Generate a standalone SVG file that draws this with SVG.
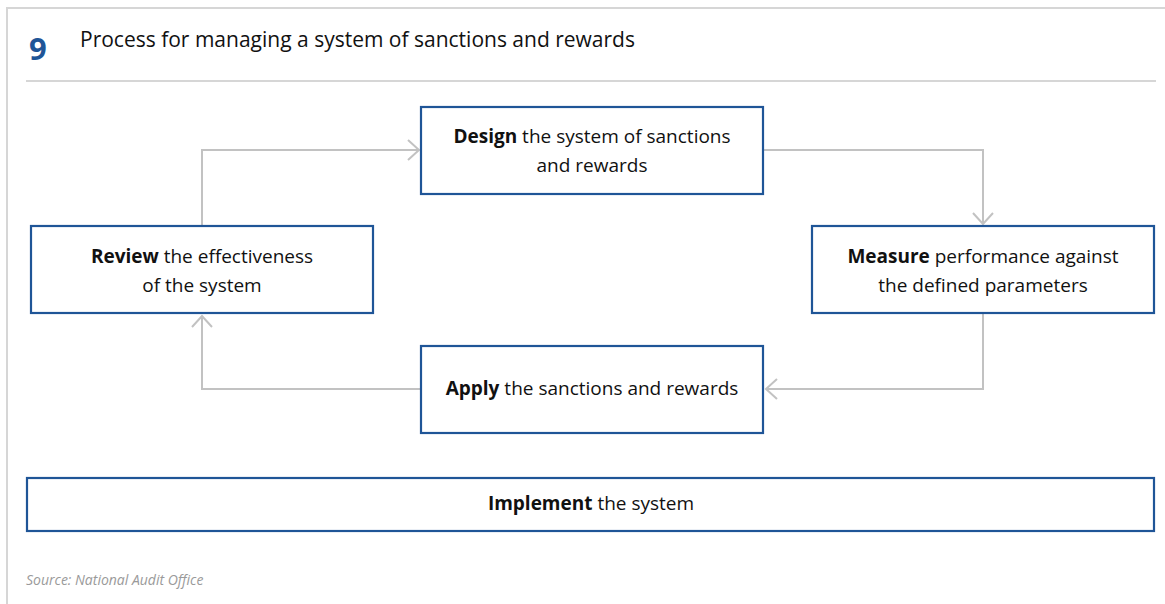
<svg xmlns="http://www.w3.org/2000/svg" width="1165" height="604" viewBox="0 0 1165 604">
<style>
.frame{fill:none;stroke:#d6d6d6;stroke-width:2}
.box{fill:#ffffff;stroke:#1f5597;stroke-width:2.2}
.conn{fill:none;stroke:#c2c2c2;stroke-width:2}
.t{font-family:"Open Sans","Noto Sans","Liberation Sans",sans-serif;font-size:19px;fill:#111111;text-anchor:middle}
.b{font-weight:bold}
.title{font-family:"Open Sans","Noto Sans","Liberation Sans",sans-serif;font-size:21px;fill:#111111}
.num{font-family:"Open Sans","Noto Sans","Liberation Sans",sans-serif;font-size:31px;font-weight:bold;fill:#1f5597}
.src{font-family:"Open Sans","Noto Sans","Liberation Sans",sans-serif;font-size:14px;font-style:italic;fill:#9a9a9a}
</style>
<defs>
<marker id="chev" markerUnits="userSpaceOnUse" markerWidth="30" markerHeight="30" viewBox="-15 -15 30 30" refX="0" refY="0" orient="auto">
<path d="M-11,-10 L0,0 L-11,10" fill="none" stroke="#c2c2c2" stroke-width="2"/>
</marker>
</defs>
<rect width="1165" height="604" fill="#ffffff"/>
<g id="frame">
<path class="frame" d="M7,604 V8 H1165"/>
<path class="frame" d="M26,81 H1156"/>
</g>
<g id="header">
<text class="num" x="29" y="60">9</text>
<text class="title" x="80" y="47">Process for managing a system of sanctions and rewards</text>
</g>
<g id="connectors">
<path class="conn" d="M202,225 V150 H419" marker-end="url(#chev)"/>
<path class="conn" d="M763,150 H983 V224" marker-end="url(#chev)"/>
<path class="conn" d="M983,313 V389 H766" marker-end="url(#chev)"/>
<path class="conn" d="M421,389 H202 V316" marker-end="url(#chev)"/>
</g>
<g id="node-design">
<rect class="box" x="421" y="107" width="342" height="87"/>
<text class="t" x="592" y="143"><tspan class="b">Design</tspan> the system of sanctions</text>
<text class="t" x="592" y="172">and rewards</text>
</g>
<g id="node-review">
<rect class="box" x="31" y="226" width="342" height="87"/>
<text class="t" x="202" y="263"><tspan class="b">Review</tspan> the effectiveness</text>
<text class="t" x="202" y="292">of the system</text>
</g>
<g id="node-measure">
<rect class="box" x="812" y="226" width="342" height="87"/>
<text class="t" x="983" y="263"><tspan class="b">Measure</tspan> performance against</text>
<text class="t" x="983" y="292">the defined parameters</text>
</g>
<g id="node-apply">
<rect class="box" x="421" y="346" width="342" height="87"/>
<text class="t" x="592" y="395"><tspan class="b">Apply</tspan> the sanctions and rewards</text>
</g>
<g id="node-implement">
<rect class="box" x="27" y="478" width="1127" height="53"/>
<text class="t" x="591" y="510"><tspan class="b">Implement</tspan> the system</text>
</g>
<text class="src" x="26" y="585">Source: National Audit Office</text>
</svg>
